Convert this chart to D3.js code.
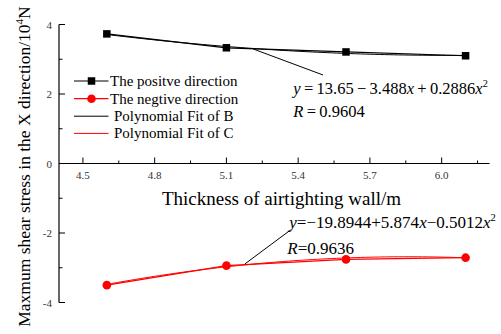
<!DOCTYPE html>
<html>
<head>
<meta charset="utf-8">
<script src="https://cdn.jsdelivr.net/npm/d3@7"></script>
<style>
  html, body { margin: 0; padding: 0; background: #fff; }
  svg { display: block; }
</style>
</head>
<body>
<svg id="chart" width="501" height="334"></svg>
<script>
// Wall thickness (m) and the maximum shear stress (10^4 N) in each direction
const thickness = [4.6, 5.1, 5.6, 6.1];
const positiveStress = [3.73, 3.33, 3.21, 3.10];
const negativeStress = [-3.50, -2.94, -2.76, -2.71];

// Quadratic fit coefficients [c0, c1, c2] : y = c0 + c1 x + c2 x^2
const fitB = [13.65, -3.488, 0.2886];
const fitC = [-19.8944, 5.874, -0.5012];
const fitR = [0.9604, 0.9636];

const xTicks = [4.5, 4.8, 5.1, 5.4, 5.7, 6.0];
const xMinorTicks = [4.65, 4.95, 5.25, 5.55, 5.85, 6.15];
const yTicks = [-4, -2, 0, 2, 4];
const yMinorTicks = [-3, -1, 1, 3];

const legendLabels = ["The positve direction", "The negtive direction", "Polynomial Fit of B", "Polynomial Fit of C"];

const SERIF = "Liberation Serif";
const svg = d3.select("#chart");
// every text node gets the serif face directly
const txt = sel => sel.append("text").attr("font-family", SERIF).style("font-family", SERIF);

const x = d3.scaleLinear().domain([4.4, 6.2]).range([59, 489.5]);
const y = d3.scaleLinear().domain([-4, 4]).range([302.5, 24.5]);
const x0 = y(0);

const poly = c => v => c[0] + c[1] * v + c[2] * v * v;
const fitXs = d3.range(4.6, 6.1001, 0.02);

// ---- axes ----
const xAxis = svg.append("g").attr("transform", `translate(0,${x0})`);
xAxis.append("line").attr("x1", x(4.4)).attr("x2", x(6.2)).attr("stroke", "#000").attr("stroke-width", 1.2);
xAxis.selectAll(".maj").data(xTicks).join("line")
  .attr("x1", d => x(d)).attr("x2", d => x(d)).attr("y1", 0).attr("y2", -6)
  .attr("stroke", "#000").attr("stroke-width", 1);
xAxis.selectAll(".min").data(xMinorTicks).join("line")
  .attr("x1", d => x(d)).attr("x2", d => x(d)).attr("y1", 0).attr("y2", -3)
  .attr("stroke", "#000").attr("stroke-width", 1);
xTicks.forEach(d => {
  txt(xAxis).attr("x", x(d)).attr("y", 15.5)
    .attr("text-anchor", "middle").attr("font-size", 11).attr("fill", "#333")
    .text(d3.format(".1f")(d));
});

const yAxis = svg.append("g").attr("transform", `translate(${x(4.4)},0)`);
yAxis.append("line").attr("y1", y(-4)).attr("y2", y(4)).attr("stroke", "#000").attr("stroke-width", 1.2);
yAxis.selectAll(".maj").data(yTicks).join("line")
  .attr("y1", d => y(d)).attr("y2", d => y(d)).attr("x1", 0).attr("x2", 6)
  .attr("stroke", "#000").attr("stroke-width", 1);
yAxis.selectAll(".min").data(yMinorTicks).join("line")
  .attr("y1", d => y(d)).attr("y2", d => y(d)).attr("x1", 0).attr("x2", 3.5)
  .attr("stroke", "#000").attr("stroke-width", 1);
yTicks.forEach(d => {
  txt(yAxis).attr("x", -7).attr("y", y(d) + 4)
    .attr("text-anchor", "end").attr("font-size", 11).attr("fill", "#333")
    .text(d);
});

// axis titles
txt(svg)
  .attr("x", 281.5).attr("y", 205)
  .attr("text-anchor", "middle").attr("font-size", 19)
  .text("Thickness of airtighting wall/m");

const yTitle = txt(svg)
  .attr("transform", "translate(30,166.5) rotate(-90)")
  .attr("text-anchor", "middle").attr("font-size", 17.5);
yTitle.append("tspan").text("Maxmum shear stress in the X direction/10");
yTitle.append("tspan").attr("dy", -7).attr("font-size", 11).text("4");
yTitle.append("tspan").attr("dy", 7).text("N");

// ---- fit curves ----
const line = d3.line().x(d => x(d[0])).y(d => y(d[1]));
svg.append("path")
  .attr("d", line(fitXs.map(v => [v, poly(fitB)(v)])))
  .attr("fill", "none").attr("stroke", "#000").attr("stroke-width", 1);
svg.append("path")
  .attr("d", line(fitXs.map(v => [v, poly(fitC)(v)])))
  .attr("fill", "none").attr("stroke", "#ff0000").attr("stroke-width", 1);

// ---- data series ----
svg.append("path")
  .attr("d", line(thickness.map((t, i) => [t, positiveStress[i]])))
  .attr("fill", "none").attr("stroke", "#000").attr("stroke-width", 1.2);
svg.append("path")
  .attr("d", line(thickness.map((t, i) => [t, negativeStress[i]])))
  .attr("fill", "none").attr("stroke", "#ff0000").attr("stroke-width", 1.2);

svg.selectAll(".sq").data(thickness).join("rect")
  .attr("x", (d) => x(d) - 3.75).attr("y", (d, i) => y(positiveStress[i]) - 3.75)
  .attr("width", 7.5).attr("height", 7.5).attr("fill", "#000");
svg.selectAll(".dot").data(thickness).join("circle")
  .attr("cx", d => x(d)).attr("cy", (d, i) => y(negativeStress[i]))
  .attr("r", 4.3).attr("fill", "#ff0000");

// ---- fit annotations ----
svg.append("line")
  .attr("x1", x(5.212)).attr("y1", y(3.295)).attr("x2", x(5.504)).attr("y2", y(2.547))
  .attr("stroke", "#000").attr("stroke-width", 1);
svg.append("line")
  .attr("x1", x(5.177)).attr("y1", y(-2.892)).attr("x2", x(5.368)).attr("y2", y(-1.914))
  .attr("stroke", "#000").attr("stroke-width", 1);

// equation pieces: [text, italic?]
function equation(c, spaced) {
  const sp = spaced ? "\u2009" : "";
  const sign = v => (v < 0 ? "\u2212" : "+");
  return [
    ["y", true],
    [sp + "=" + sp, false],
    [(c[0] < 0 ? "\u2212" : "") + Math.abs(c[0]), false],
    [sp + sign(c[1]) + sp + Math.abs(c[1]), false],
    ["x", true],
    [sp + sign(c[2]) + sp + Math.abs(c[2]), false],
    ["x", true]
  ];
}

function drawEquation(c, spaced, px, py, size) {
  const t = txt(svg).attr("x", px).attr("y", py).attr("font-size", size);
  equation(c, spaced).forEach(([s, it]) => {
    t.append("tspan").attr("font-style", it ? "italic" : "normal").text(s);
  });
  t.append("tspan").attr("dy", -7).attr("font-size", size * 0.62).text("2");
  return t;
}

function drawR(r, spaced, px, py, size) {
  const sp = spaced ? "\u2009" : "";
  const t = txt(svg).attr("x", px).attr("y", py).attr("font-size", size);
  t.append("tspan").attr("font-style", "italic").text("R");
  t.append("tspan").text(sp + "=" + sp + r);
}

drawEquation(fitB, true, 293.3, 94.3, 16.5);
drawR(fitR[0], true, 293.3, 117.3, 16.5);

drawEquation(fitC, false, 289.3, 227.5, 17);
drawR(fitR[1], false, 287.3, 253.8, 17);

// ---- legend ----
const legendRows = [81, 98.7, 116.2, 133.4];
const legendColors = ["#000", "#ff0000", "#000", "#ff0000"];
const legend = svg.append("g");
legendLabels.forEach((lab, i) => {
  const ry = legendRows[i];
  legend.append("line").attr("x1", 74).attr("x2", 108.5).attr("y1", ry).attr("y2", ry)
    .attr("stroke", legendColors[i]).attr("stroke-width", i < 2 ? 1.2 : 1);
  if (i === 0) legend.append("rect").attr("x", 91.5 - 3.75).attr("y", ry - 3.75)
    .attr("width", 7.5).attr("height", 7.5).attr("fill", "#000");
  if (i === 1) legend.append("circle").attr("cx", 91.5).attr("cy", ry).attr("r", 4.3).attr("fill", "#ff0000");
  txt(legend).attr("x", i < 2 ? 110 : 114).attr("y", ry + 5)
    .attr("font-size", 15).text(lab);
});
</script>
</body>
</html>
